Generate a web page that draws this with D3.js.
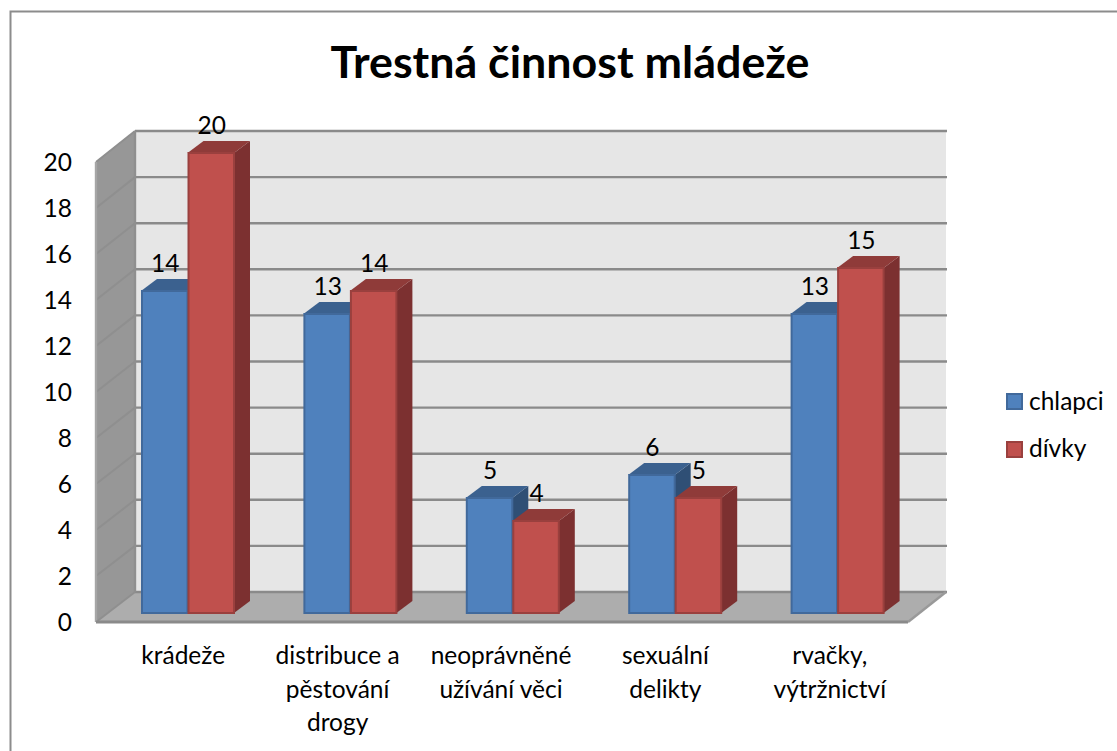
<!DOCTYPE html>
<html><head><meta charset="utf-8">
<script src="https://cdn.jsdelivr.net/npm/d3@7/dist/d3.min.js"></script>
<style>html,body{margin:0;padding:0;background:#fff}svg{display:block}text{font-family:Lato,sans-serif;fill:#000}</style>
</head><body><svg id="c" width="1117" height="751"></svg>
<script>
const title = "Trestná činnost mládeže";
const categories = ["krádeže","distribuce a|pěstování|drogy","neoprávněné|užívání věci","sexuální|delikty","rvačky,|výtržnictví"];
const seriesNames = ["chlapci","dívky"];
const chlapci = [14,13,5,6,13];
const divky = [20,14,4,5,15];
const yTicks = d3.range(0,21,2);
const fills = ["#4f81bd","#c0504d"], strokes = ["#41699b","#9a403e"], tops = ["#3b618f","#8f3b39"], sides=["#2f4f75","#7c3030"];
const labelNudge = [6,-2,-1,1,3];

const svg = d3.select("#c");
// Three parallel value planes: back wall, bar front, front edge of the box
const yBack = d3.scaleLinear().domain([0,20]).range([592,131]);
const yFront = d3.scaleLinear().domain([0,20]).range([622,162]);
const yBar = d3.scaleLinear().domain([0,20]).range([613,153]);
const x0 = d3.scaleBand().domain(d3.range(categories.length)).range([96,908]);
const x1 = d3.scaleBand().domain([0,1]).range([0,93]);
const barDX=16, barDY=12, barInset=45;
const poly=pts=>pts.map(p=>p.join(",")).join(" ");

// outer frame
svg.append("path").attr("d","M10.5,751V11.5H1117").attr("fill","none").attr("stroke","#8c8c8c").attr("stroke-width",2);

// back wall
svg.append("rect").attr("x",135).attr("y",yBack(20)).attr("width",811).attr("height",yBack(0)-yBack(20)).attr("fill","#e6e6e6");
// left wall
svg.append("polygon").attr("points",poly([[96,yFront(20)],[135,yBack(20)],[135,yBack(0)],[96,yFront(0)]])).attr("fill","#979797").attr("stroke","#a6a6a6");
// floor
svg.append("polygon").attr("points",poly([[96,yFront(0)],[135,yBack(0)],[946,yBack(0)],[908,yFront(0)]])).attr("fill","#adadad");
// gridlines
const gl = svg.append("g").attr("fill","none").attr("stroke","#8a8a8a").attr("stroke-width",2.4);
yTicks.forEach(t=>{
  gl.append("line").attr("x1",135).attr("x2",947).attr("y1",yBack(t)).attr("y2",yBack(t));
  gl.append("line").attr("x1",96).attr("x2",135).attr("y1",yFront(t)).attr("y2",yBack(t)).attr("stroke","#8f8f8f").attr("stroke-width",2);
});
gl.append("line").attr("x1",135).attr("x2",135).attr("y1",yBack(20)).attr("y2",yBack(0)).attr("stroke","#8f8f8f");
gl.append("line").attr("x1",96).attr("x2",96).attr("y1",yFront(20)).attr("y2",yFront(0)).attr("stroke","#a6a6a6");
gl.append("line").attr("x1",96).attr("x2",908).attr("y1",yFront(0)).attr("y2",yFront(0)).attr("stroke-width",3);
gl.append("line").attr("x1",908).attr("x2",946).attr("y1",yFront(0)).attr("y2",yBack(0)).attr("stroke","#999");

// y tick labels
svg.append("g").selectAll("text").data(yTicks).join("text")
 .attr("x",72).attr("y",d=>yFront(d)+9).attr("text-anchor","end").attr("font-size",24.5).text(d=>d);

// bars
[chlapci,divky].forEach((vals,s)=>{
  const g=svg.append("g");
  vals.forEach((v,i)=>{
    const l=x0(i)+barInset+x1(s), r=l+x1.bandwidth(), t=yBar(v), b=yBar(0);
    g.append("polygon").attr("points",poly([[r,t],[r+barDX,t-barDY],[r+barDX,b-barDY],[r,b]])).attr("fill",sides[s]);
    g.append("polygon").attr("points",poly([[l,t],[l+barDX,t-barDY],[r+barDX,t-barDY],[r,t]])).attr("fill",tops[s]);
    g.append("rect").attr("x",l+1).attr("y",t).attr("width",x1.bandwidth()-1).attr("height",b-t).attr("fill",fills[s]).attr("stroke",strokes[s]).attr("stroke-width",2);
  });
});
// value labels
[chlapci,divky].forEach((vals,s)=>{
  svg.append("g").selectAll("text").data(vals).join("text")
   .attr("x",(d,i)=>x0(i)+barInset+x1(s)+x1.bandwidth()/2+1).attr("y",d=>yBar(d)-19)
   .attr("text-anchor","middle").attr("font-size",24.5).text(d=>d);
});

// category labels
categories.forEach((c,i)=>{
  const t=svg.append("text").attr("text-anchor","middle").attr("font-size",24.5);
  c.split("|").forEach((ln,k)=>t.append("tspan").attr("x",x0(i)+x0.bandwidth()/2+labelNudge[i]).attr("y",664+k*33.5).text(ln));
});

// title
svg.append("text").attr("x",570).attr("y",78).attr("text-anchor","middle").attr("font-size",44.8).attr("font-weight",700).text(title);

// legend
seriesNames.forEach((n,s)=>{
  const y=s?442:394;
  svg.append("rect").attr("x",1007).attr("y",y).attr("width",15).attr("height",15).attr("fill",fills[s]).attr("stroke",strokes[s]).attr("stroke-width",2);
  svg.append("text").attr("x",1029).attr("y",y+(s?15:16)).attr("font-size",24.5).text(n);
});
</script></body></html>
